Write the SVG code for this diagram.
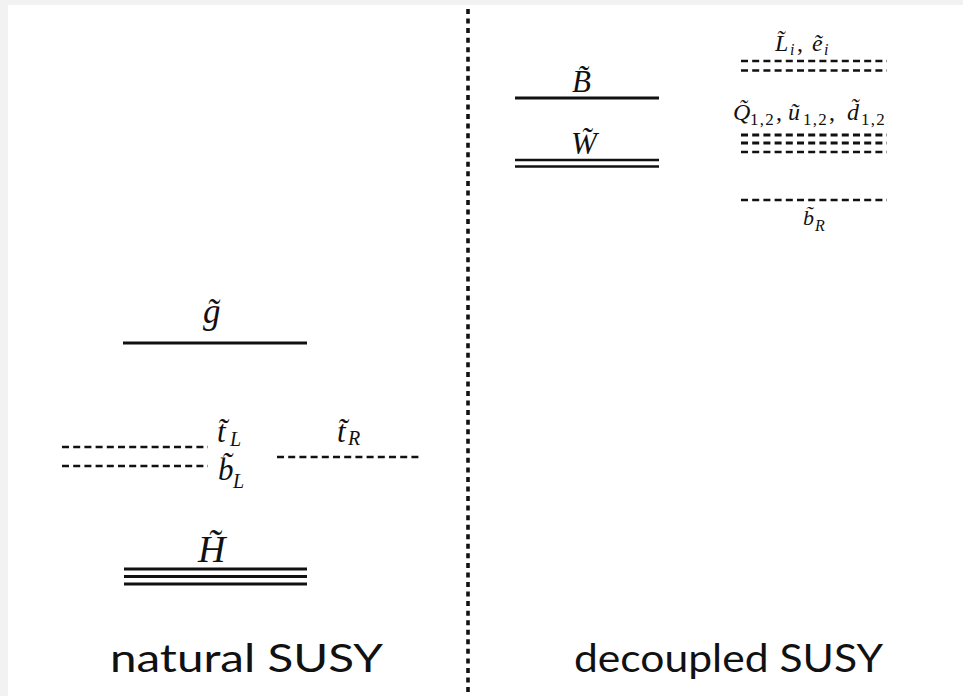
<svg xmlns="http://www.w3.org/2000/svg" width="963" height="696" viewBox="0 0 963 696">
<style>
.solid{stroke:#111;stroke-width:3;fill:none}
.thin{stroke:#111;stroke-width:2.5;fill:none}
.dash{stroke:#111;stroke-width:2.6;stroke-dasharray:7 4.2;fill:none}
.m{font-family:"Liberation Serif","DejaVu Serif",serif;font-style:italic;fill:#111}
.n{font-style:normal}
.sub{font-style:normal;font-size:17px;letter-spacing:1.2px}
.lab{font-family:Lato,"Open Sans",sans-serif;font-size:38px;fill:#111}
</style>
<rect x="0" y="0" width="963" height="696" fill="#ffffff"/>
<rect x="0" y="0" width="963" height="5" fill="#f2f2f2"/>
<rect x="0" y="0" width="8" height="696" fill="#f2f2f2"/>

<g id="divider">
<line x1="468" y1="9" x2="468" y2="696" stroke="#111" stroke-width="3.6" stroke-dasharray="5 4.55"/>
</g>
<g id="connectors"></g>

<!-- natural SUSY -->
<g id="gluino">
<line class="solid" x1="123" y1="343" x2="307" y2="343"/>
<text class="m" x="203" y="323" font-size="35">g̃</text>
</g>
<g id="stop-L-sbottom-L">
<line class="dash" x1="62" y1="447" x2="208" y2="447"/>
<line class="dash" x1="62" y1="466" x2="208" y2="466"/>
<text class="m" x="217" y="442" font-size="31">t̃<tspan x="230" y="446" font-size="20">L</tspan></text>
<text class="m" x="218" y="480" font-size="31">b̃<tspan x="233" y="488" font-size="20">L</tspan></text>
</g>
<g id="stop-R">
<line class="dash" x1="277" y1="457" x2="422" y2="457"/>
<text class="m" x="337" y="442" font-size="31">t̃<tspan x="348" y="445" font-size="20">R</tspan></text>
</g>
<g id="higgsino">
<line class="solid" x1="124" y1="569" x2="307" y2="569"/>
<line class="solid" x1="124" y1="576.5" x2="307" y2="576.5"/>
<line class="solid" x1="124" y1="584" x2="307" y2="584"/>
<text class="m" x="198" y="562" font-size="38">H̃</text>
</g>
<g id="label-natural">
<text class="lab" x="110" y="672" textLength="273" lengthAdjust="spacingAndGlyphs">natural SUSY</text>
</g>

<!-- decoupled SUSY -->
<g id="bino">
<line class="solid" x1="515" y1="98" x2="659" y2="98"/>
<text class="m" x="572" y="92" font-size="31">B̃</text>
</g>
<g id="wino">
<line class="thin" x1="515" y1="160" x2="659" y2="160"/>
<line class="thin" x1="515" y1="166.5" x2="659" y2="166.5"/>
<text class="m" x="571" y="154" font-size="31">W̃</text>
</g>
<g id="sleptons">
<line class="dash" x1="741" y1="61" x2="887" y2="61"/>
<line class="dash" x1="741" y1="70.5" x2="887" y2="70.5"/>
<text class="m" x="775" y="51" font-size="24">L̃<tspan x="790" y="55" font-size="16">i</tspan><tspan class="n" x="797" y="51">,</tspan><tspan x="812" y="51">ẽ</tspan><tspan x="824" y="55" font-size="16">i</tspan></text>
</g>
<g id="squarks-12">
<line class="dash" x1="741" y1="135" x2="887" y2="135" style="stroke-width:3.2"/>
<line class="dash" x1="741" y1="143" x2="887" y2="143" style="stroke-width:3.2"/>
<line class="dash" x1="741" y1="152" x2="887" y2="152"/>
<text class="m" x="733" y="120" font-size="24">Q̃<tspan class="sub" x="750" y="125">1,2</tspan><tspan class="n" x="776" y="120">,</tspan><tspan x="788" y="120">ũ</tspan><tspan class="sub" x="803" y="125">1,2</tspan><tspan class="n" x="829" y="120">,</tspan><tspan x="847" y="120">d̃</tspan><tspan class="sub" x="861" y="125">1,2</tspan></text>
</g>
<g id="sbottom-R">
<line class="dash" x1="741" y1="200" x2="887" y2="200"/>
<text class="m" x="803" y="225" font-size="22">b̃<tspan x="815" y="231" font-size="16">R</tspan></text>
</g>
<g id="label-decoupled">
<text class="lab" x="574" y="672" textLength="309" lengthAdjust="spacingAndGlyphs">decoupled SUSY</text>
</g>
</svg>
